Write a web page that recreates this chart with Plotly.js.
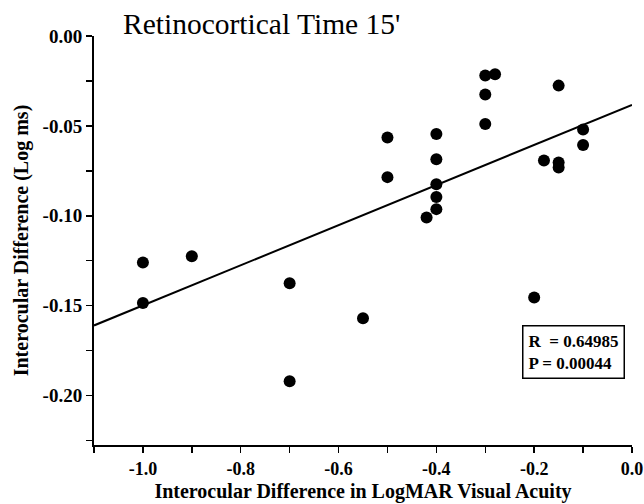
<!DOCTYPE html>
<html>
<head>
<meta charset="utf-8">
<script src="https://cdn.plot.ly/plotly-3.0.1.min.js"></script>
<style>html,body{margin:0;padding:0;background:#fff;}#chart{width:644px;height:504px;}</style>
</head>
<body>
<div id="chart"></div>
<script>
// Data
var acuityDiff = [-1.0, -1.0, -0.9, -0.7, -0.7, -0.55, -0.5, -0.5, -0.4, -0.4, -0.4, -0.4, -0.4, -0.42,
                  -0.3, -0.28, -0.3, -0.3, -0.15, -0.18, -0.15, -0.15, -0.1, -0.1, -0.2];
var timeDiff = [-0.126, -0.1485, -0.1225, -0.1375, -0.192, -0.157, -0.0565, -0.0785, -0.0545, -0.0685, -0.0825, -0.0895, -0.0963, -0.101,
                -0.022, -0.0213, -0.0325, -0.049, -0.0276, -0.0693, -0.0704, -0.0732, -0.052, -0.0606, -0.1455];
var fitX = [-1.1, 0.0];
var fitY = [-0.161, -0.0383];
var xTickVals = [-1.1, -1.0, -0.9, -0.8, -0.7, -0.6, -0.5, -0.4, -0.3, -0.2, -0.1, 0.0];
var xTickText = ['', '-1.0', '', '-0.8', '', '-0.6', '', '-0.4', '', '-0.2', '', '0.0'];
var yTickVals = [0.0, -0.025, -0.05, -0.075, -0.1, -0.125, -0.15, -0.175, -0.2, -0.225];
var yTickText = ['0.00', '', '-0.05', '', '-0.10', '', '-0.15', '', '-0.20', ''];
var statsText = 'R  = 0.64985<br>P = 0.00044';

var serif = '"Liberation Serif", "Times New Roman", serif';

var traces = [
  {x: fitX, y: fitY, mode: 'lines', type: 'scatter',
   line: {color: '#000', width: 2}, hoverinfo: 'skip', showlegend: false},
  {x: acuityDiff, y: timeDiff, mode: 'markers', type: 'scatter',
   marker: {color: '#000', size: 12}, showlegend: false}
];

var layout = {
  width: 644, height: 504,
  margin: {l: 94, r: 12, t: 36, b: 59},
  paper_bgcolor: '#fff', plot_bgcolor: '#fff',
  showlegend: false,
  font: {family: serif, color: '#000'},
  xaxis: {
    range: [-1.1, 0.0], showgrid: false, zeroline: false,
    showline: true, linecolor: '#000', linewidth: 2,
    ticks: 'outside', ticklen: 6, tickwidth: 1.5, tickcolor: '#000',
    tickmode: 'array', tickvals: xTickVals, ticktext: xTickText,
    ticklabeloverflow: 'allow',
    tickfont: {family: serif, size: 18, color: '#000', weight: 'bold'},
    title: {text: '<b>Interocular Difference in LogMAR Visual Acuity</b>',
            font: {family: serif, size: 20, color: '#000'}, standoff: 6}
  },
  yaxis: {
    range: [-0.2275, 0.0], showgrid: false, zeroline: false,
    showline: true, linecolor: '#000', linewidth: 2,
    ticks: 'outside', ticklen: 6, tickwidth: 1.5, tickcolor: '#000',
    tickmode: 'array', tickvals: yTickVals, ticktext: yTickText,
    ticklabeloverflow: 'allow',
    tickfont: {family: serif, size: 19, color: '#000', weight: 'bold'},
    title: {text: '<b>Interocular Difference (Log ms)</b>',
            font: {family: serif, size: 20, color: '#000'}, standoff: 9}
  },
  annotations: [
    {text: "Retinocortical Time 15'", xref: 'paper', yref: 'paper',
     x: 0.05, y: 1.0, xanchor: 'left', yanchor: 'bottom', yshift: -6, showarrow: false,
     font: {family: serif, size: 29.5, color: '#000'}},
    {text: '<b>' + statsText + '</b>', xref: 'x', yref: 'y', x: -0.224, y: -0.1605,
     xanchor: 'left', yanchor: 'top', showarrow: false, align: 'left',
     bordercolor: '#000', borderwidth: 1.5, borderpad: 5, bgcolor: '#fff',
     font: {family: serif, size: 17, color: '#000'}}
  ]
};

Plotly.newPlot('chart', traces, layout, {displayModeBar: false, staticPlot: true});
</script>
</body>
</html>
